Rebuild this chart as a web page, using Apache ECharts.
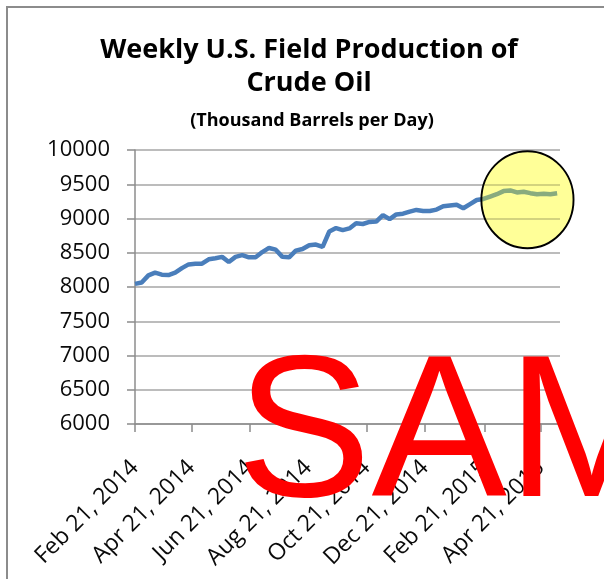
<!DOCTYPE html>
<html lang="en">
<head>
    <meta charset="UTF-8">
    <title>Weekly U.S. Field Production of Crude Oil</title>
    <script src="https://cdn.jsdelivr.net/npm/echarts@6.0.0/dist/echarts.min.js"></script>
    <style>
        html, body { margin: 0; padding: 0; background: #fff; }
    </style>
</head>
<body>
    <div id="chart" style="width: 604px; height: 579px;"></div>

    <script>
        // weekly values, one per Friday starting Feb 21, 2014
        var firstWeek = [2014, 1, 21];
        var production = [
            8045, 8065, 8170, 8210, 8180, 8175, 8210, 8275, 8330, 8340,
            8340, 8405, 8420, 8440, 8365, 8440, 8465, 8433, 8435, 8510,
            8570, 8545, 8440, 8433, 8530, 8555, 8610, 8620, 8585, 8810,
            8860, 8830, 8855, 8930, 8920, 8950, 8955, 9050, 8990, 9060,
            9070, 9100, 9125, 9110, 9110, 9130, 9180, 9190, 9200, 9150,
            9210, 9270, 9285, 9320, 9355, 9400, 9410, 9380, 9390, 9370,
            9355, 9360, 9355, 9370
        ];
        var xTickDates = ['2014-02-21', '2014-04-21', '2014-06-21', '2014-08-21',
                          '2014-10-21', '2014-12-21', '2015-02-21', '2015-04-21'];
        var xTickLabels = ['Feb 21, 2014', 'Apr 21, 2014', 'Jun 21, 2014', 'Aug 21, 2014',
                           'Oct 21, 2014', 'Dec 21, 2014', 'Feb 21, 2015', 'Apr 21, 2015'];
        var yMin = 6000, yMax = 10000, yStep = 500;
        // highlighted spot (yellow circle)
        var circleAt = ['2015-04-07', 9275];

        // days since the first week, so the axis can be a plain value axis
        var DAY = 86400000;
        var t0 = Date.UTC(firstWeek[0], firstWeek[1], firstWeek[2]);
        function toDay(s) {
            var p = s.split('-');
            return Math.round((Date.UTC(+p[0], +p[1] - 1, +p[2]) - t0) / DAY);
        }

        var tickDays = xTickDates.map(toDay);
        var seriesData = production.map(function (v, i) {
            return [7 * i, v];
        });

        var chart = echarts.init(document.getElementById('chart'));

        chart.setOption({
            backgroundColor: '#fff',
            animation: false,
            title: [{
                text: 'Weekly U.S. Field Production of\nCrude Oil',
                left: 304,
                top: 29,
                textAlign: 'center',
                textStyle: {
                    fontFamily: 'Open Sans',
                    fontWeight: 'bold',
                    fontSize: 27,
                    lineHeight: 33,
                    color: '#000'
                }
            }, {
                text: '(Thousand Barrels per Day)',
                left: 307,
                top: 107,
                textAlign: 'center',
                textStyle: {
                    fontFamily: 'Open Sans',
                    fontWeight: 'bold',
                    fontSize: 18,
                    color: '#000'
                }
            }],
            grid: {
                left: 135,
                top: 150,
                right: 44,
                bottom: 155
            },
            xAxis: {
                type: 'value',
                min: 0,
                max: toDay('2015-05-11'),
                splitLine: { show: false },
                axisLine: { lineStyle: { color: '#8c8c8c', width: 1.5 } },
                axisTick: {
                    show: true,
                    customValues: tickDays,
                    length: 8,
                    lineStyle: { color: '#8c8c8c', width: 1.5 }
                },
                axisLabel: {
                    customValues: tickDays,
                    rotate: 45,
                    margin: 40,
                    fontFamily: 'Open Sans',
                    fontSize: 23,
                    color: '#0a0a0a',
                    formatter: function (val) {
                        var i = tickDays.indexOf(val);
                        return i >= 0 ? xTickLabels[i] : '';
                    }
                }
            },
            yAxis: {
                type: 'value',
                min: yMin,
                max: yMax,
                interval: yStep,
                axisLine: { show: true, lineStyle: { color: '#8c8c8c', width: 1.5 } },
                axisTick: { show: true, length: 8, lineStyle: { color: '#8c8c8c', width: 1.5 } },
                splitLine: { lineStyle: { color: '#a6a6a6', width: 1.5 } },
                axisLabel: {
                    margin: 25,
                    fontFamily: 'Open Sans',
                    fontSize: 22,
                    color: '#0a0a0a',
                    formatter: function (v) { return String(v); }
                }
            },
            series: [{
                type: 'line',
                data: seriesData,
                showSymbol: false,
                symbol: 'none',
                lineStyle: { color: '#4a7ebb', width: 4.5 }
            }]
        });

        // yellow highlight circle placed through the chart's own scales
        var c = chart.convertToPixel({ gridIndex: 0 }, [toDay(circleAt[0]), circleAt[1]]);

        chart.setOption({
            graphic: [{
                type: 'rect',
                z: 50,
                silent: true,
                shape: { x: 7, y: 7, width: 700, height: 700 },
                style: { fill: 'none', stroke: '#8c8c8c', lineWidth: 2 }
            }, {
                type: 'circle',
                z: 100,
                silent: true,
                x: c[0], y: c[1],
                scaleX: 0.95,
                shape: { cx: 0, cy: 0, r: 48.5 },
                style: { fill: '#ffff99', blend: 'multiply' }
            }, {
                type: 'circle',
                z: 101,
                silent: true,
                x: c[0], y: c[1],
                scaleX: 0.95,
                shape: { cx: 0, cy: 0, r: 48.5 },
                style: { fill: 'rgba(255,255,153,0.35)', stroke: '#000', lineWidth: 2 }
            }, {
                type: 'text',
                z: 200,
                silent: true,
                x: 236,
                y: 339,
                style: {
                    text: 'SAMPLE',
                    font: 'normal 203px "Liberation Sans"',
                    fill: '#ff0000',
                    textAlign: 'left',
                    textVerticalAlign: 'top'
                }
            }]
        });
    </script>
</body>
</html>
